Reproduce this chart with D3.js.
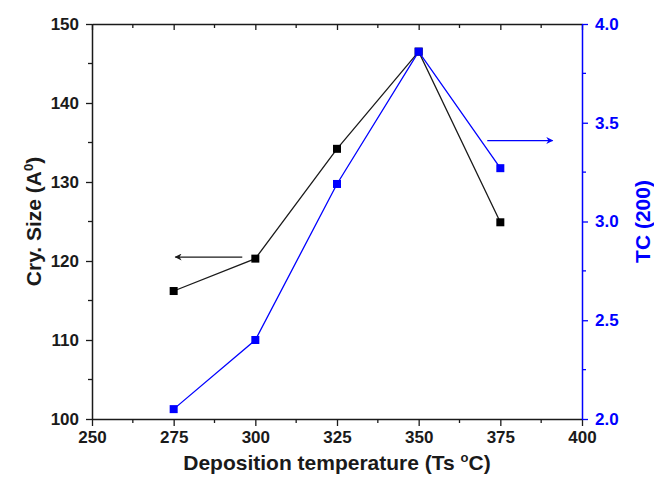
<!DOCTYPE html>
<html>
<head>
<meta charset="utf-8">
<script src="https://cdn.jsdelivr.net/npm/d3@7"></script>
<style>
  body { margin: 0; background: #fff; }
  text { font-family: "Liberation Sans", Arial, sans-serif; font-weight: bold; }
</style>
</head>
<body>
<div id="chart"></div>
<script>
// data
var temps = [275, 300, 325, 350, 375];
var crySize = [116.2, 120.3, 134.2, 146.5, 124.9];
var tcValues = [2.05, 2.40, 3.19, 3.86, 3.27];

var xTicks = [250, 275, 300, 325, 350, 375, 400];
var yLeftTicks = [100, 110, 120, 130, 140, 150];
var yRightTicks = [2.0, 2.5, 3.0, 3.5, 4.0];

// arrows pointing at the matching axis (data units)
var leftArrow = [296, 275.5, 120.5];   // from x, to x, at cry size
var rightArrow = [371, 391, 3.41];     // from x, to x, at TC

var svgWidth = 654;
var svgHeight = 477;
var margin = { top: 24, right: 72, bottom: 58, left: 92 };
var width = svgWidth - margin.left - margin.right;
var height = svgHeight - margin.top - margin.bottom;

var blue = "#0000ff";
var dark = "#1a1a1a";

var svg = d3.select("#chart").append("svg")
  .attr("width", svgWidth)
  .attr("height", svgHeight);

var defs = svg.append("defs");
[["headBlack", dark], ["headBlue", blue]].forEach(function(m) {
  defs.append("marker")
    .attr("id", m[0])
    .attr("viewBox", "0 0 10 10")
    .attr("refX", 9).attr("refY", 5)
    .attr("markerWidth", 11).attr("markerHeight", 7)
    .attr("markerUnits", "userSpaceOnUse")
    .attr("orient", "auto")
    .append("path")
    .attr("d", "M0,0 L10,5 L0,10 L3,5 Z")
    .attr("fill", m[1]);
});

var chartGroup = svg.append("g")
  .attr("transform", `translate(${margin.left}, ${margin.top})`);

var x = d3.scaleLinear().domain([250, 400]).range([0, width]);
var yLeft = d3.scaleLinear().domain([100, 150]).range([height, 0]);
var yRight = d3.scaleLinear().domain([2, 4]).range([height, 0]);

// minor ticks
function minor(g, scale, vals, orient, len, color) {
  g.selectAll(".minor").data(vals).enter().append("line")
    .attr("class", "minor")
    .attr("stroke", color).attr("stroke-width", 1.3)
    .each(function(d) {
      var s = d3.select(this);
      if (orient === "h") s.attr("x1", scale(d)).attr("x2", scale(d)).attr("y1", 0).attr("y2", len);
      else s.attr("y1", scale(d)).attr("y2", scale(d)).attr("x1", 0).attr("x2", len);
    });
}

function styleAxis(g, color) {
  g.select(".domain").attr("stroke", color).attr("stroke-width", 1.5);
  g.selectAll(".tick line").attr("stroke", color).attr("stroke-width", 1.3);
  g.selectAll(".tick text").attr("fill", color).style("font-size", "17px");
}

// bottom axis
var bottomAxisG = chartGroup.append("g")
  .attr("transform", `translate(0, ${height})`)
  .call(d3.axisBottom(x).tickValues(xTicks).tickFormat(d3.format("d")).tickSize(7).tickPadding(5).tickSizeOuter(0));
styleAxis(bottomAxisG, dark);
minor(bottomAxisG, x, d3.range(262.5, 400, 25), "h", 4, dark);

// top axis, ticks inside
var topAxisG = chartGroup.append("g")
  .call(d3.axisTop(x).tickValues(xTicks).tickFormat("").tickSize(-6).tickSizeOuter(0));
styleAxis(topAxisG, dark);
minor(topAxisG, x, d3.range(262.5, 400, 25), "h", 4, dark);

// left axis
var leftAxisG = chartGroup.append("g")
  .call(d3.axisLeft(yLeft).tickValues(yLeftTicks).tickFormat(d3.format("d")).tickSize(6).tickPadding(7).tickSizeOuter(0));
styleAxis(leftAxisG, dark);
minor(leftAxisG, yLeft, d3.range(105, 150, 10), "v", -4, dark);

// right axis
var rightAxisG = chartGroup.append("g")
  .attr("transform", `translate(${width}, 0)`)
  .call(d3.axisRight(yRight).tickValues(yRightTicks).tickFormat(d3.format(".1f")).tickSize(6).tickPadding(7).tickSizeOuter(0));
styleAxis(rightAxisG, blue);
minor(rightAxisG, yRight, d3.range(2.25, 4, 0.5), "v", 4, blue);

// series
var blackData = temps.map(function(t, i) { return [t, crySize[i]]; });
var blueData = temps.map(function(t, i) { return [t, tcValues[i]]; });

chartGroup.append("path")
  .datum(blackData)
  .attr("fill", "none").attr("stroke", dark).attr("stroke-width", 1.3)
  .attr("d", d3.line().x(d => x(d[0])).y(d => yLeft(d[1])));

chartGroup.selectAll(".sqBlack").data(blackData).enter().append("rect")
  .attr("class", "sqBlack")
  .attr("x", d => x(d[0]) - 4).attr("y", d => yLeft(d[1]) - 4)
  .attr("width", 8).attr("height", 8)
  .attr("fill", "#000");

chartGroup.append("path")
  .datum(blueData)
  .attr("fill", "none").attr("stroke", blue).attr("stroke-width", 1.3)
  .attr("d", d3.line().x(d => x(d[0])).y(d => yRight(d[1])));

chartGroup.selectAll(".sqBlue").data(blueData).enter().append("rect")
  .attr("class", "sqBlue")
  .attr("x", d => x(d[0]) - 4).attr("y", d => yRight(d[1]) - 4)
  .attr("width", 8).attr("height", 8)
  .attr("fill", blue);

// arrows
chartGroup.append("line")
  .attr("x1", x(leftArrow[0])).attr("x2", x(leftArrow[1]))
  .attr("y1", yLeft(leftArrow[2])).attr("y2", yLeft(leftArrow[2]))
  .attr("stroke", dark).attr("stroke-width", 1.3)
  .attr("marker-end", "url(#headBlack)");

chartGroup.append("line")
  .attr("x1", x(rightArrow[0])).attr("x2", x(rightArrow[1]))
  .attr("y1", yRight(rightArrow[2])).attr("y2", yRight(rightArrow[2]))
  .attr("stroke", blue).attr("stroke-width", 1.3)
  .attr("marker-end", "url(#headBlue)");

// axis titles
var xt = svg.append("text")
  .attr("x", margin.left + width / 2)
  .attr("y", 470)
  .attr("text-anchor", "middle")
  .attr("fill", dark)
  .style("font-size", "21px");
xt.append("tspan").text("Deposition temperature (Ts ");
xt.append("tspan").attr("dy", -8).style("font-size", "13px").text("o");
xt.append("tspan").attr("dy", 8).text("C)");

var yl = svg.append("text")
  .attr("transform", `translate(41, ${margin.top + height / 2}) rotate(-90)`)
  .attr("text-anchor", "middle")
  .attr("fill", dark)
  .style("font-size", "21px");
yl.append("tspan").text("Cry. Size (A");
yl.append("tspan").attr("dy", -8).style("font-size", "13px").text("0");
yl.append("tspan").attr("dy", 8).text(")");

svg.append("text")
  .attr("transform", `translate(650, ${margin.top + height / 2}) rotate(-90)`)
  .attr("text-anchor", "middle")
  .attr("fill", blue)
  .style("font-size", "21px")
  .text("TC (200)");
</script>
</body>
</html>
